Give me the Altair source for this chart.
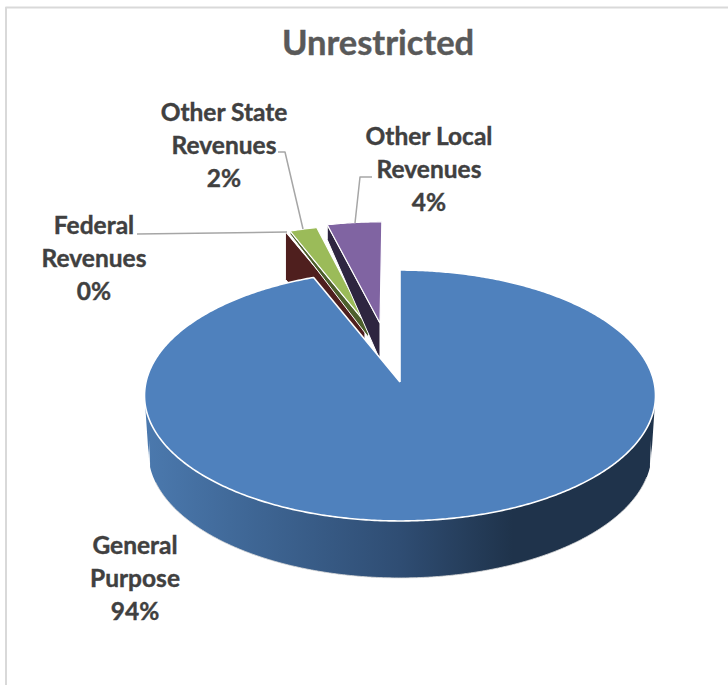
import numpy as np
import pandas as pd
import altair as alt

# Revenue shares, in percent
categories = ["General Purpose", "Federal Revenues", "Other State Revenues", "Other Local Revenues"]
shares = [93.9, 0.1, 2.0, 4.0]
top_colors = ["#4f81bd", "#c0504d", "#9bbb59", "#8064a2"]
wall_colors = ["#1f334b", "#4f1f1e", "#4d5f2c", "#2e2540"]

W, H = 728, 685
TEXT = "#404040"
FONT = "Lato"

# Tilted-disc projection: plan coordinates (radius 1) to canvas pixels
CX, CY, FX, FY, K = 400.0, 382.0, 254.0, 124.0, 0.1076


def project(px, py):
    px, py = np.asarray(px, float), np.asarray(py, float)
    w = 1 + K * py
    return CX + FX * px / w, CY - FY * py / w


# Pulled-out offset of each slice in plan coordinates, and its cut-face depth (far end, near end)
pull = [(0.0, 0.0), (-0.145, 0.47), (-0.13, 0.47), (-0.083, 0.50)]
cut_depth = [None, (48, 45), (3, 11), (15, 37)]

edges = np.cumsum([0] + shares) / 100 * 2 * np.pi


def slice_outline(i):
    a0, a1 = edges[i], edges[i + 1]
    ang = np.linspace(a0, a1, max(3, int((a1 - a0) / 0.01)))
    ox, oy = pull[i]
    px = np.r_[ox, ox + np.sin(ang)]
    py = np.r_[oy, oy + np.cos(ang)]
    return np.column_stack(project(px, py))


def band_table(poly, step=1.0):
    """Turn a closed outline into x / y / y2 rows for an area mark."""
    p = np.vstack([poly, poly[:1]])
    xs = np.r_[np.arange(p[:, 0].min(), p[:, 0].max(), step), p[:, 0] - 1e-3, p[:, 0] + 1e-3]
    rows = []
    for x in np.unique(xs):
        hits = []
        for (x0, y0), (x1, y1) in zip(p[:-1], p[1:]):
            if x0 != x1 and min(x0, x1) <= x <= max(x0, x1):
                hits.append(y0 + (x - x0) / (x1 - x0) * (y1 - y0))
        if hits:
            rows.append((x, min(hits), max(hits)))
    return pd.DataFrame(rows, columns=["x", "y", "y2"])


x_scale = alt.Scale(domain=[0, W], range=[0, W])
y_scale = alt.Scale(domain=[0, H], range=[0, H])
X = alt.X("x:Q", scale=x_scale, axis=None)
Y = alt.Y("y:Q", scale=y_scale, axis=None)
Y2 = alt.Y2("y2:Q")


def filled(poly, paint):
    return alt.Chart(band_table(poly)).mark_area(fill=paint, interpolate="linear", stroke=None).encode(x=X, y=Y, y2=Y2)


def traced(poly, color, width, closed=True):
    pts = np.vstack([poly, poly[:1]]) if closed else poly
    d = pd.DataFrame({"x": pts[:, 0], "y": pts[:, 1], "i": range(len(pts))})
    return alt.Chart(d).mark_line(color=color, strokeWidth=width, interpolate="linear", strokeJoin="round").encode(x=X, y=Y, order="i:Q")


def cut_face(i):
    outline = slice_outline(i)
    apex, corner = outline[0], outline[1]
    far, near = cut_depth[i]
    return np.array([apex, corner, corner + [0, far], apex + [0, near]])


layers = []

# Chart frame: left and top rules
layers.append(traced(np.array([[6, H], [6, 7.5], [W, 7.5]]), "#d9d9d9", 2, closed=False))

# Small slices, back to front
for i in (1, 2, 3):
    face = cut_face(i)
    layers.append(filled(face, wall_colors[i]))
    layers.append(traced(face, "#ffffff", 1))
    top = slice_outline(i)
    layers.append(filled(top, top_colors[i]))
    layers.append(traced(top, "#ffffff", 1.2))

# Rim of the large slice, shaded left to right
theta = np.linspace(np.pi / 2, 3 * np.pi / 2, 240)
rim_top = np.column_stack(project(np.sin(theta), np.cos(theta)))
mid_x = CX + 1
rim_low = np.column_stack([mid_x + (rim_top[:, 0] - mid_x) * 0.985, rim_top[:, 1] + 57])
rim_top = rim_top[np.argsort(rim_top[:, 0])]
rim_low = rim_low[np.argsort(rim_low[:, 0])]
rim = np.vstack([rim_top, rim_low[::-1]])
shade = alt.Gradient(
    gradient="linear", x1=0, x2=1, y1=0, y2=0,
    stops=[
        alt.GradientStop(color="#4b79ae", offset=0),
        alt.GradientStop(color="#3f6796", offset=0.2),
        alt.GradientStop(color="#2f4d73", offset=0.5),
        alt.GradientStop(color="#1f334b", offset=0.72),
        alt.GradientStop(color="#1f334b", offset=1),
    ],
)
layers.append(filled(rim, shade))
rim_edge = rim_low[np.abs(rim_low[:, 0] - mid_x) < 246]
layers.append(traced(rim_edge, "#d9d9d9", 0.8, closed=False))

# Large slice on top
big = slice_outline(0)
layers.append(filled(big, top_colors[0]))
layers.append(traced(big, "#ffffff", 1.6))

# Leader lines
for path in (
    [[137, 234], [287, 232]],
    [[278, 152], [285, 152], [303, 229]],
    [[372, 177], [360, 177], [355, 223]],
):
    layers.append(traced(np.array(path, float), "#a6a6a6", 1.5, closed=False))

# Slice labels: name broken before the last word, then the rounded share
label_centers = [(135, 547), (94, 227), (224, 114), (429, 138)]
rows = []
for name, share, (lx, ly) in zip(categories, shares, label_centers):
    for k, line in enumerate(name.rsplit(" ", 1) + [f"{share:.0f}%"]):
        rows.append({"x": lx, "y": ly + k * 32.8, "t": line})
layers.append(
    alt.Chart(pd.DataFrame(rows))
    .mark_text(font=FONT, fontWeight="bold", fontSize=24.5, color=TEXT, stroke=TEXT, strokeWidth=0.4,
               align="center", baseline="middle")
    .encode(x=X, y=Y, text="t:N")
)

# Heading
layers.append(
    alt.Chart(pd.DataFrame({"x": [378], "y": [45], "t": ["Unrestricted"]}))
    .mark_text(font=FONT, fontWeight="bold", fontSize=34.5, color="#595959", stroke="#595959", strokeWidth=0.4,
               align="center", baseline="middle")
    .encode(x=X, y=Y, text="t:N")
)

chart = (
    alt.layer(*layers)
    .properties(width=W, height=H, padding=0, autosize=alt.AutoSizeParams(type="none"), background="#ffffff")
    .configure_view(stroke=None)
)

chart.save("out.html", embed_options={"renderer": "svg", "actions": False})
